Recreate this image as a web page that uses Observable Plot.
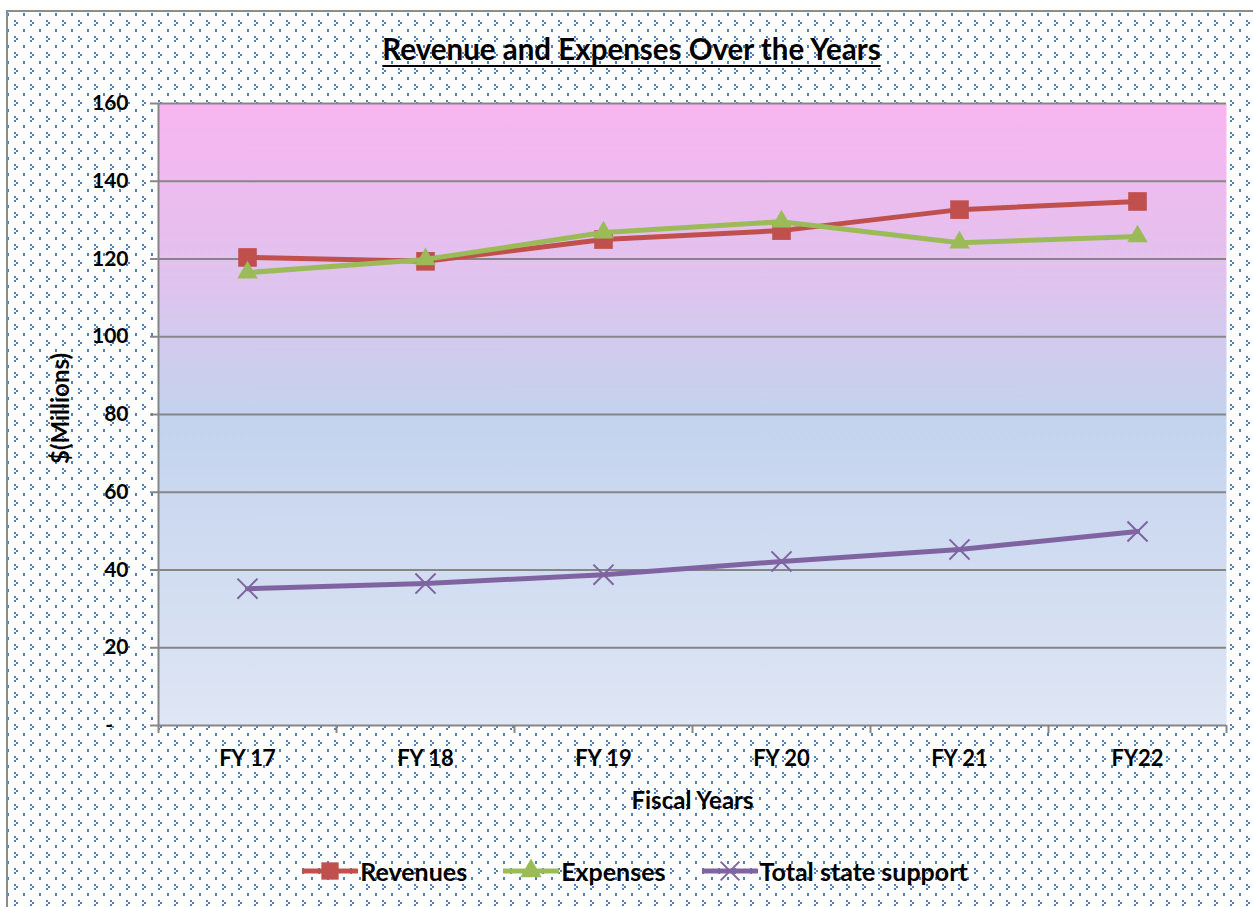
<!DOCTYPE html>
<html>
<head>
<meta charset="utf-8">
<script src="https://cdn.jsdelivr.net/npm/d3@7"></script>
<script src="https://cdn.jsdelivr.net/npm/@observablehq/plot@0.6"></script>
<style>
  html, body { margin: 0; padding: 0; overflow: hidden; background: #fff; }
  #page { position: relative; width: 1253px; height: 907px; overflow: hidden; font-family: Lato, "Open Sans", sans-serif; color: #000; }
  #frame { position: absolute; left: 6px; top: 10px; width: 1300px; height: 950px;
    border-left: 2px solid #8c8c8c; border-top: 2px solid #8c8c8c;
    background-color: #fff;
    background-image: url("data:image/svg+xml,%3Csvg xmlns='http://www.w3.org/2000/svg' width='16' height='16' shape-rendering='crispEdges' fill='%234f81bd'%3E%3Crect x='3' y='13' width='1.5' height='3'/%3E%3Crect x='10' y='4' width='2' height='2'/%3E%3Crect x='12' y='6' width='2' height='2'/%3E%3Crect x='10' y='8' width='2' height='2'/%3E%3C/svg%3E");
    background-position: 12px 4px; }
  #title { position: absolute; left: 0; width: 1263px; top: 31px; text-align: center; font-weight: bold; font-size: 29.5px; line-height: 36px; text-decoration: underline; text-underline-offset: 5px; text-decoration-thickness: 2px; }
  #chart { position: absolute; left: 0; top: 80px; }
  #legend { position: absolute; left: 0; top: 855px; width: 1270px; display: flex; justify-content: center; gap: 0; font-weight: bold; font-size: 25px; line-height: 32px; }
  .item { display: flex; align-items: center; margin: 0 18px; }
  .item svg { display: block; margin-right: 2px; }
</style>
</head>
<body>
<div id="page">
  <div id="frame"></div>
  <div id="title">Revenue and Expenses Over the Years</div>
  <div id="chart"></div>
  <div id="legend"></div>
</div>
<script>
// ---- data ----
const years = ["FY 17", "FY 18", "FY 19", "FY 20", "FY 21", "FY22"];
const revenues = [120.4, 119.4, 125.0, 127.3, 132.7, 134.8];
const expenses = [116.5, 119.9, 126.8, 129.6, 124.2, 125.8];
const stateSupport = [35.2, 36.5, 38.8, 42.2, 45.3, 49.9];
const yTicks = [0, 20, 40, 60, 80, 100, 120, 140, 160];
const seriesNames = ["Revenues", "Expenses", "Total state support"];
const seriesColors = ["#c0504d", "#9bbb59", "#8064a2"];
const seriesSymbols = ["square", "triangle", "times"];
const xTitle = "Fiscal Years";
const yTitle = "$(Millions)";

const rows = years.map((y, i) => ({ pos: i + 0.5, year: y, rev: revenues[i], exp: expenses[i], sup: stateSupport[i] }));
const boundaries = d3.range(0, years.length + 1);
const centers = years.map((_, i) => i + 0.5);

const defs = () => {
  const ns = "http://www.w3.org/2000/svg";
  const g = document.createElementNS(ns, "defs");
  g.innerHTML = `<linearGradient id="plotbg" x1="0" y1="0" x2="0" y2="1">
    <stop offset="0" stop-color="#f9b5f0"/>
    <stop offset="0.25" stop-color="#e3c1ee"/>
    <stop offset="0.5" stop-color="#c3d3ee"/>
    <stop offset="1" stop-color="#dfe6f4"/>
  </linearGradient>`;
  return g;
};

const grey = "#868686";

const chart = Plot.plot({
  width: 1253,
  height: 750,
  marginTop: 23,
  marginBottom: 105,
  marginLeft: 158,
  marginRight: 27,
  style: { fontFamily: "Lato, 'Open Sans', sans-serif", color: "#000", background: "transparent", overflow: "visible" },
  x: { type: "linear", domain: [0, years.length] },
  y: { domain: [0, 160] },
  marks: [
    defs,
    Plot.frame({ fill: "url(#plotbg)", stroke: null }),
    Plot.gridY(yTicks.filter(d => d > 0), { stroke: grey, strokeOpacity: 1, strokeWidth: 2 }),
    Plot.ruleX([0], { y1: 0, y2: 160, stroke: grey, strokeWidth: 2 }),
    Plot.ruleY([0], { stroke: grey, strokeWidth: 2 }),
    Plot.axisY(yTicks, {
      tickSize: 8, tickPadding: 22, stroke: grey, strokeWidth: 2, strokeOpacity: 1,
      tickFormat: d => d === 0 ? "-\u00a0\u00a0\u00a0" : String(d),
      fontSize: 21, fontWeight: "bold", label: null
    }),
    Plot.axisX(boundaries, { tickSize: 8, tickFormat: () => "", stroke: grey, strokeWidth: 2, strokeOpacity: 1, label: null }),
    Plot.axisX(centers, {
      tickSize: 0, tickPadding: 25, tickFormat: d => years[Math.round(d - 0.5)],
      fontSize: 22, fontWeight: "bold", label: null
    }),
    Plot.text([yTitle], { frameAnchor: "left", textAnchor: "middle", rotate: -90, dx: -97, dy: -6, fontSize: 24, fontWeight: "bold", fill: "#000" }),
    Plot.text([xTitle], { frameAnchor: "bottom", textAnchor: "middle", dy: 83, fontSize: 24, fontWeight: "bold", fill: "#000" }),
    Plot.line(rows, { x: "pos", y: "rev", stroke: seriesColors[0], strokeWidth: 5 }),
    Plot.dot(rows, { x: "pos", y: "rev", symbol: "square", r: 10.5, fill: seriesColors[0], stroke: null }),
    Plot.line(rows, { x: "pos", y: "exp", stroke: seriesColors[1], strokeWidth: 5 }),
    Plot.dot(rows, { x: "pos", y: "exp", symbol: "triangle", r: 7.6, fill: seriesColors[1], stroke: null }),
    Plot.line(rows, { x: "pos", y: "sup", stroke: seriesColors[2], strokeWidth: 5 }),
    Plot.dot(rows, { x: "pos", y: "sup", symbol: "times", r: 9.2, stroke: seriesColors[2], strokeWidth: 2 })
  ]
});
document.getElementById("chart").appendChild(chart);

// legend
const legend = document.getElementById("legend");
seriesNames.forEach((name, i) => {
  const item = document.createElement("div");
  item.className = "item";
  const w = 56, h = 28;
  const sym = { square: d3.symbolSquare, triangle: d3.symbolTriangle, times: d3.symbolTimes }[seriesSymbols[i]];
  const size = i === 0 ? 300 : i === 1 ? 200 : 230;
  const path = d3.symbol(sym, size)();
  const filled = seriesSymbols[i] !== "times";
  item.innerHTML = `<svg width="${w}" height="${h}"><line x1="1" x2="${w - 1}" y1="${h / 2}" y2="${h / 2}" stroke="${seriesColors[i]}" stroke-width="5" stroke-linecap="round"/><path transform="translate(${w / 2},${h / 2})" d="${path}" fill="${filled ? seriesColors[i] : "none"}" stroke="${filled ? "none" : seriesColors[i]}" stroke-width="2"/></svg><span>${name}</span>`;
  legend.appendChild(item);
});
</script>
</body>
</html>
